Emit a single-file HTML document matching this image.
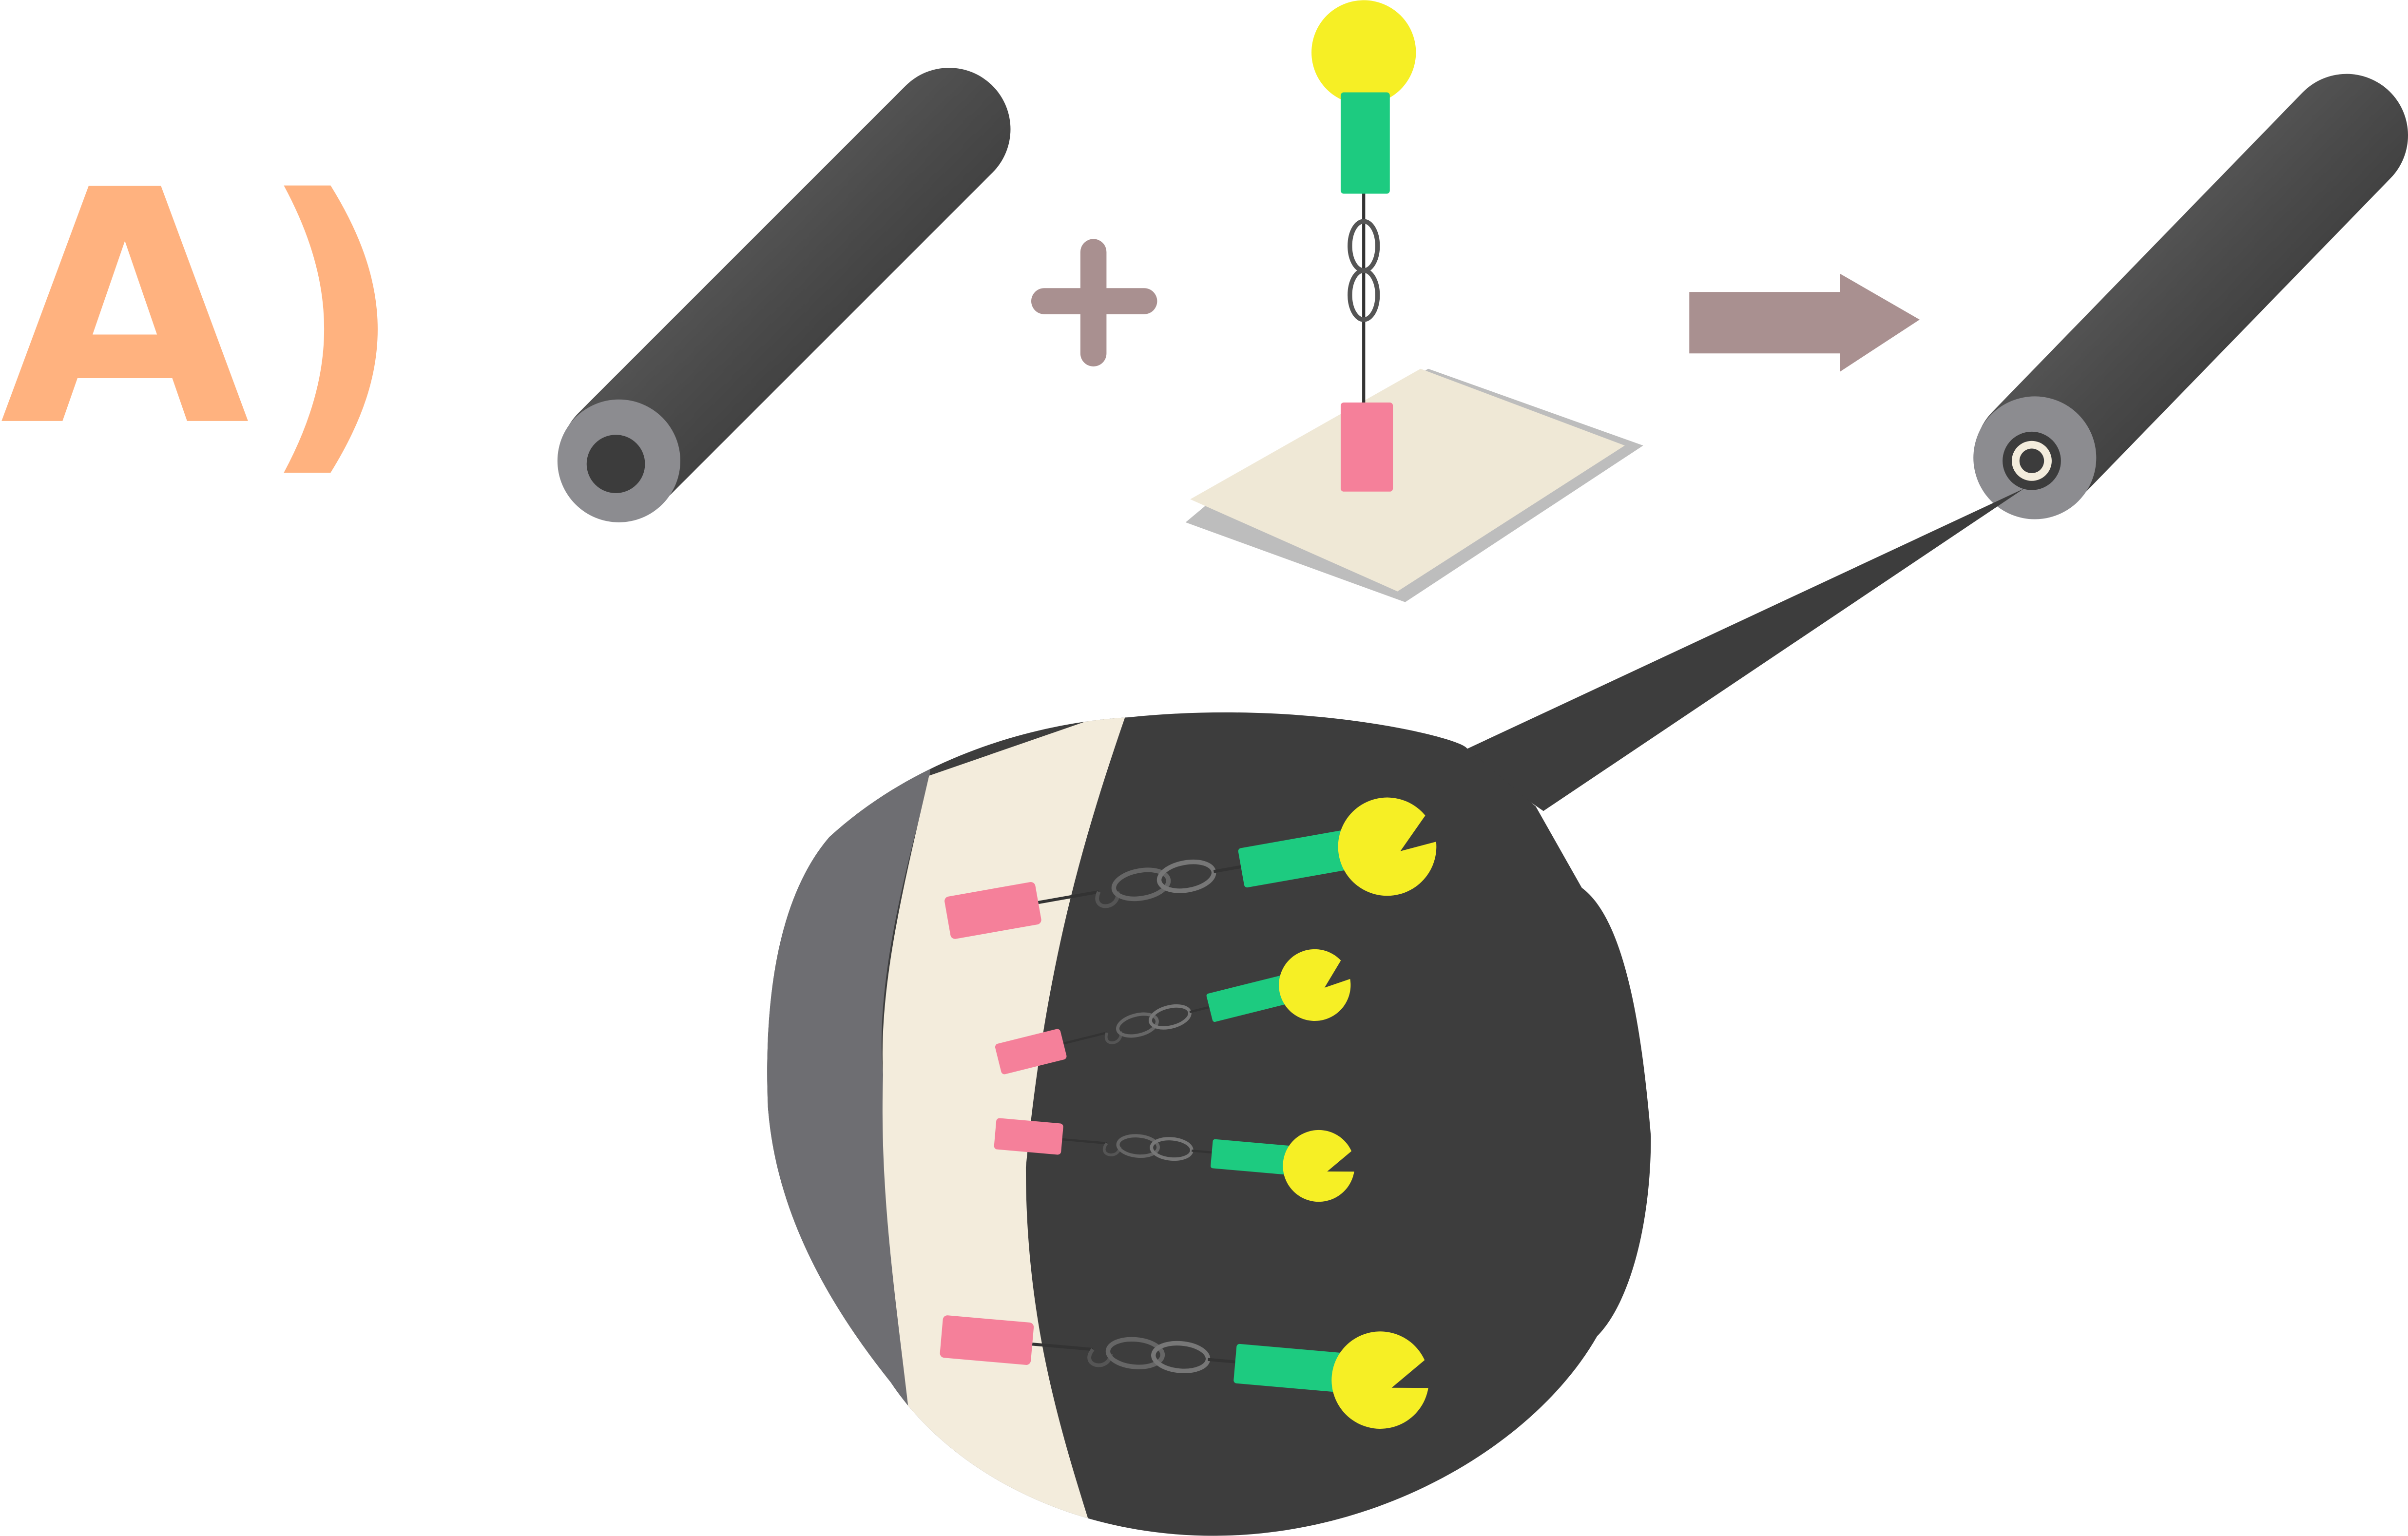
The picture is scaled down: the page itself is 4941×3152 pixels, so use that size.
<!DOCTYPE html>
<html><head><meta charset="utf-8"><style>
html,body{margin:0;padding:0;background:#fff;}
svg{display:block}
</style></head><body>
<svg width="4941" height="3152" viewBox="0 0 1568 1000" xmlns="http://www.w3.org/2000/svg">
<defs>
<linearGradient id="tube" x1="0" y1="0" x2="1" y2="1">
<stop offset="0" stop-color="#6a6a6a"/><stop offset="0.5" stop-color="#4a4a4a"/><stop offset="1" stop-color="#2e2e2e"/>
</linearGradient>
<clipPath id="blobclip"><path d="M735,467 C850,455 950,480 955,487 L1000,525 L1030,578 C1060,600 1070,680 1075,740 C1075,800 1060,850 1040,870 C1000,940 900,1000 790,1000 C700,1000 620,960 580,900 C540,850 505,790 500,720 C497,640 510,580 540,545 C600,490 680,470 735,467 Z"/></clipPath>
<g id="mol">
<line x1="60" y1="0" x2="100" y2="0" stroke="#333" stroke-width="2"/>
<path d="M100,0 C92,12 112,14 112,2" fill="none" stroke="#555" stroke-width="2.5"/>
<ellipse cx="128" cy="0" rx="18" ry="9" fill="none" stroke="#666" stroke-width="3"/>
<ellipse cx="158" cy="0" rx="18" ry="9" fill="none" stroke="#777" stroke-width="3"/>
<line x1="176" y1="0" x2="194" y2="0" stroke="#333" stroke-width="2"/>
<rect x="0" y="-14" width="60" height="28" rx="3" fill="#F5809A"/>
<rect x="194" y="-12" width="72" height="26" rx="2" fill="#1DCB80"/>
<path d="M290,0 m32,6 A32,32 0 1 1 318,-12 L298,8 Z" fill="#F6EF25"/>
</g>
</defs>
<text x="0" y="274" font-family="DejaVu Sans, sans-serif" font-weight="bold" font-size="210" fill="#FFB27F">A</text>
<text x="168" y="280" font-family="DejaVu Sans, sans-serif" font-weight="bold" font-size="210" fill="#FFB27F">)</text>

<g>
<line x1="405" y1="297" x2="618" y2="84" stroke="url(#tube)" stroke-width="80" stroke-linecap="round"/>
<circle cx="403" cy="300" r="40" fill="#8c8c90"/>
<circle cx="401" cy="302" r="19" fill="#3c3c3c"/>
</g>

<g stroke="#A99090" stroke-width="17" stroke-linecap="round">
<line x1="680" y1="196" x2="745" y2="196"/><line x1="712" y1="164" x2="712" y2="230"/>
</g>

<g>
<path d="M772,340 L790,325 L930,240 L1070,290 L915,392 Z" fill="#bdbdbd"/>
<path d="M775,325 L925,240 L1058,290 L910,385 Z" fill="#EFE8D6"/>
</g>
<g>
<circle cx="888" cy="34" r="34" fill="#F6EF25"/>
<rect x="873" y="60" width="32" height="66" rx="2" fill="#1DCB80"/>
<line x1="888" y1="126" x2="888" y2="262" stroke="#333" stroke-width="2"/>
<ellipse cx="888" cy="160" rx="9" ry="16" fill="none" stroke="#555" stroke-width="3"/>
<ellipse cx="888" cy="192" rx="9" ry="16" fill="none" stroke="#555" stroke-width="3"/>
<rect x="873" y="262" width="34" height="58" rx="2" fill="#F5809A"/>
</g>

<path d="M1100,190 L1198,190 L1198,178 L1250,208 L1198,242 L1198,230 L1100,230 Z" fill="#A99090"/>

<g>
<line x1="1326" y1="296" x2="1528" y2="88" stroke="url(#tube)" stroke-width="80" stroke-linecap="round"/>
<circle cx="1325" cy="298" r="40" fill="#8c8c90"/>
<circle cx="1323" cy="300" r="19" fill="#3c3c3c"/>
<circle cx="1323" cy="300" r="13" fill="#F3ECDC"/>
<circle cx="1323" cy="300" r="8" fill="#3c3c3c"/>
</g>

<path d="M1318,318 L950,490 L1005,528 Z" fill="#3d3d3d"/>
<g clip-path="url(#blobclip)">
<rect x="480" y="440" width="620" height="580" fill="#3d3d3d"/>
<path d="M480,440 L610,440 L605,510 C585,580 570,650 575,700 C578,800 590,860 598,1000 L480,1000 Z" fill="#6e6e72"/>
<path d="M605,505 L735,460 C700,560 680,640 668,760 C668,860 690,930 712,1000 L600,1000 C590,880 572,800 575,700 C572,640 590,570 605,505 Z" fill="#F3ECDC"/>
</g>
<use href="#mol" transform="translate(617,598) rotate(-10) scale(1)"/>
<use href="#mol" transform="translate(650,690) rotate(-14) scale(0.73)"/>
<use href="#mol" transform="translate(648,738) rotate(5) scale(0.73)"/>
<use href="#mol" transform="translate(613,870) rotate(5) scale(0.99)"/>
</svg>
</body></html>
